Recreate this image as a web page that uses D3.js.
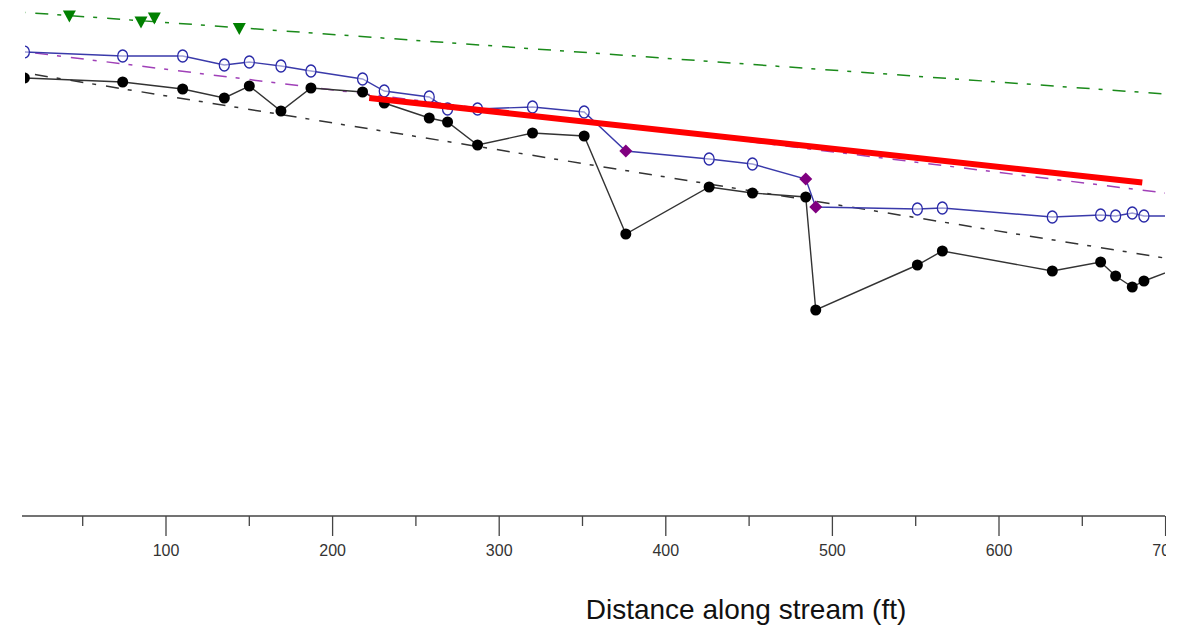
<!DOCTYPE html>
<html>
<head>
<meta charset="utf-8">
<script src="https://cdn.jsdelivr.net/npm/d3@7"></script>
<style>
  body { margin: 0; background: #fff; }
  svg { display: block; }
</style>
</head>
<body>
<div id="chart"></div>
<script>
// stations along the stream (ft)
const stations = [15, 74, 110, 135, 150, 169, 187, 218, 231, 258, 269, 287, 320, 351,
                  376, 426, 452, 484, 490, 551, 566, 632, 661, 670, 680, 687, 720];

// thalweg elevation (ft)
const thalweg = [26.10, 25.90, 25.55, 25.10, 25.70, 24.45, 25.60, 25.40, 24.85, 24.10, 23.90, 22.75, 23.35, 23.20,
                 18.30, 20.65, 20.35, 20.15, 14.50, 16.75, 17.45, 16.45, 16.90, 16.20, 15.65, 15.95, 17.00];

// water surface elevation (ft)
const waterSurface = [27.40, 27.20, 27.20, 26.75, 26.90, 26.70, 26.45, 26.05, 25.45, 25.15, 24.55, 24.55, 24.65, 24.40,
                      22.45, 22.05, 21.80, 21.05, 19.65, 19.55, 19.60, 19.15, 19.25, 19.20, 19.35, 19.20, 19.20];

// points flagged on the water surface (drawn as diamonds)
const flagged = [376, 484, 490];

// terrace / bankfull indicators
const terraceStations = [42, 85, 93, 144];
const terraceElev = [29.20, 28.90, 29.10, 28.58];

// fitted lines: [start station, end station], [start elev, end elev]
const fitStations = [0, 720];
const terraceFit = [29.47, 25.18];
const waterFit = [27.57, 20.14];
const thalwegFit = [26.56, 16.82];

// design grade line
const gradeStations = [222, 686];
const gradeElev = [25.10, 20.875];

const xTicks = [100, 200, 300, 400, 500, 600, 700];
const xMinorTicks = [50, 150, 250, 350, 450, 550, 650];

const W = 1166, H = 626;
const plot = {left: 25, right: 1165, top: 0, bottom: 516};

const svg = d3.select("#chart").append("svg")
    .attr("width", W)
    .attr("height", H);

const x = d3.scaleLinear().domain([0, 700]).range([-0.6, 1165.6]);
const y = d3.scaleLinear().domain([4.2, 30]).range([plot.bottom, 0]);

svg.append("clipPath").attr("id", "plotclip")
    .append("rect")
    .attr("x", plot.left).attr("y", plot.top)
    .attr("width", plot.right - plot.left)
    .attr("height", plot.bottom - plot.top);

const g = svg.append("g").attr("clip-path", "url(#plotclip)");

const line = d3.line().x(d => x(d[0])).y(d => y(d[1]));
const dashDot = "13,9,4,10";

// fitted dash-dot lines
[[terraceFit, "#1a8a1a"], [waterFit, "#a040b8"], [thalwegFit, "#333"]].forEach(([vals, col]) => {
    g.append("path")
        .datum(d3.zip(fitStations, vals))
        .attr("d", line)
        .attr("fill", "none")
        .attr("stroke", col)
        .attr("stroke-width", 1.5)
        .attr("stroke-dasharray", dashDot);
});

// thalweg
const thalwegPts = d3.zip(stations, thalweg);
g.append("path")
    .datum(thalwegPts)
    .attr("d", line)
    .attr("fill", "none")
    .attr("stroke", "#333")
    .attr("stroke-width", 1.4);

g.selectAll(".thalweg-pt").data(thalwegPts)
    .enter().append("circle")
    .attr("class", "thalweg-pt")
    .attr("cx", d => x(d[0]))
    .attr("cy", d => y(d[1]))
    .attr("r", 5.5)
    .attr("fill", "#000");

// water surface
const wsPts = d3.zip(stations, waterSurface);
g.append("path")
    .datum(wsPts)
    .attr("d", line)
    .attr("fill", "none")
    .attr("stroke", "#3a3aaa")
    .attr("stroke-width", 1.4);

g.selectAll(".ws-pt").data(wsPts.filter(d => !flagged.includes(d[0])))
    .enter().append("ellipse")
    .attr("class", "ws-pt")
    .attr("cx", d => x(d[0]))
    .attr("cy", d => y(d[1]))
    .attr("rx", 5)
    .attr("ry", 6)
    .attr("fill", "#fff")
    .attr("fill-opacity", 0.5)
    .attr("stroke", "#2a2aa8")
    .attr("stroke-width", 1.3);

g.selectAll(".ws-flag").data(wsPts.filter(d => flagged.includes(d[0])))
    .enter().append("path")
    .attr("class", "ws-flag")
    .attr("transform", d => `translate(${x(d[0])},${y(d[1])})`)
    .attr("d", "M0,-6.5L6.5,0L0,6.5L-6.5,0Z")
    .attr("fill", "#800080");

// terrace triangles
g.selectAll(".terrace").data(d3.zip(terraceStations, terraceElev))
    .enter().append("path")
    .attr("class", "terrace")
    .attr("transform", d => `translate(${x(d[0])},${y(d[1])})`)
    .attr("d", "M-6.5,-5.5L6.5,-5.5L0,6.5Z")
    .attr("fill", "#008000");

// design grade
g.append("path")
    .datum(d3.zip(gradeStations, gradeElev))
    .attr("d", line)
    .attr("fill", "none")
    .attr("stroke", "#ff0000")
    .attr("stroke-width", 6);

// x axis
const axis = svg.append("g").attr("class", "x-axis");

axis.append("line")
    .attr("x1", 22).attr("x2", plot.right)
    .attr("y1", plot.bottom).attr("y2", plot.bottom)
    .attr("stroke", "#444")
    .attr("stroke-width", 1.5);

axis.selectAll(".minor").data(xMinorTicks)
    .enter().append("line")
    .attr("class", "minor")
    .attr("x1", d => x(d)).attr("x2", d => x(d))
    .attr("y1", plot.bottom).attr("y2", plot.bottom + 10)
    .attr("stroke", "#444")
    .attr("stroke-width", 1.3);

axis.selectAll(".major").data(xTicks)
    .enter().append("line")
    .attr("class", "major")
    .attr("x1", d => x(d)).attr("x2", d => x(d))
    .attr("y1", plot.bottom).attr("y2", plot.bottom + 20)
    .attr("stroke", "#444")
    .attr("stroke-width", 1.3);

axis.selectAll(".tick-label").data(xTicks)
    .enter().append("text")
    .attr("class", "tick-label")
    .attr("x", d => x(d))
    .attr("y", 556)
    .attr("text-anchor", "middle")
    .style("font-family", "Liberation Sans, Arial, sans-serif")
    .style("font-size", "16px")
    .style("fill", "#333")
    .text(d => d);

svg.append("text")
    .attr("x", 746)
    .attr("y", 619)
    .attr("text-anchor", "middle")
    .style("font-family", "Liberation Sans, Arial, sans-serif")
    .style("font-size", "28px")
    .style("fill", "#111")
    .text("Distance along stream (ft)");
</script>
</body>
</html>
